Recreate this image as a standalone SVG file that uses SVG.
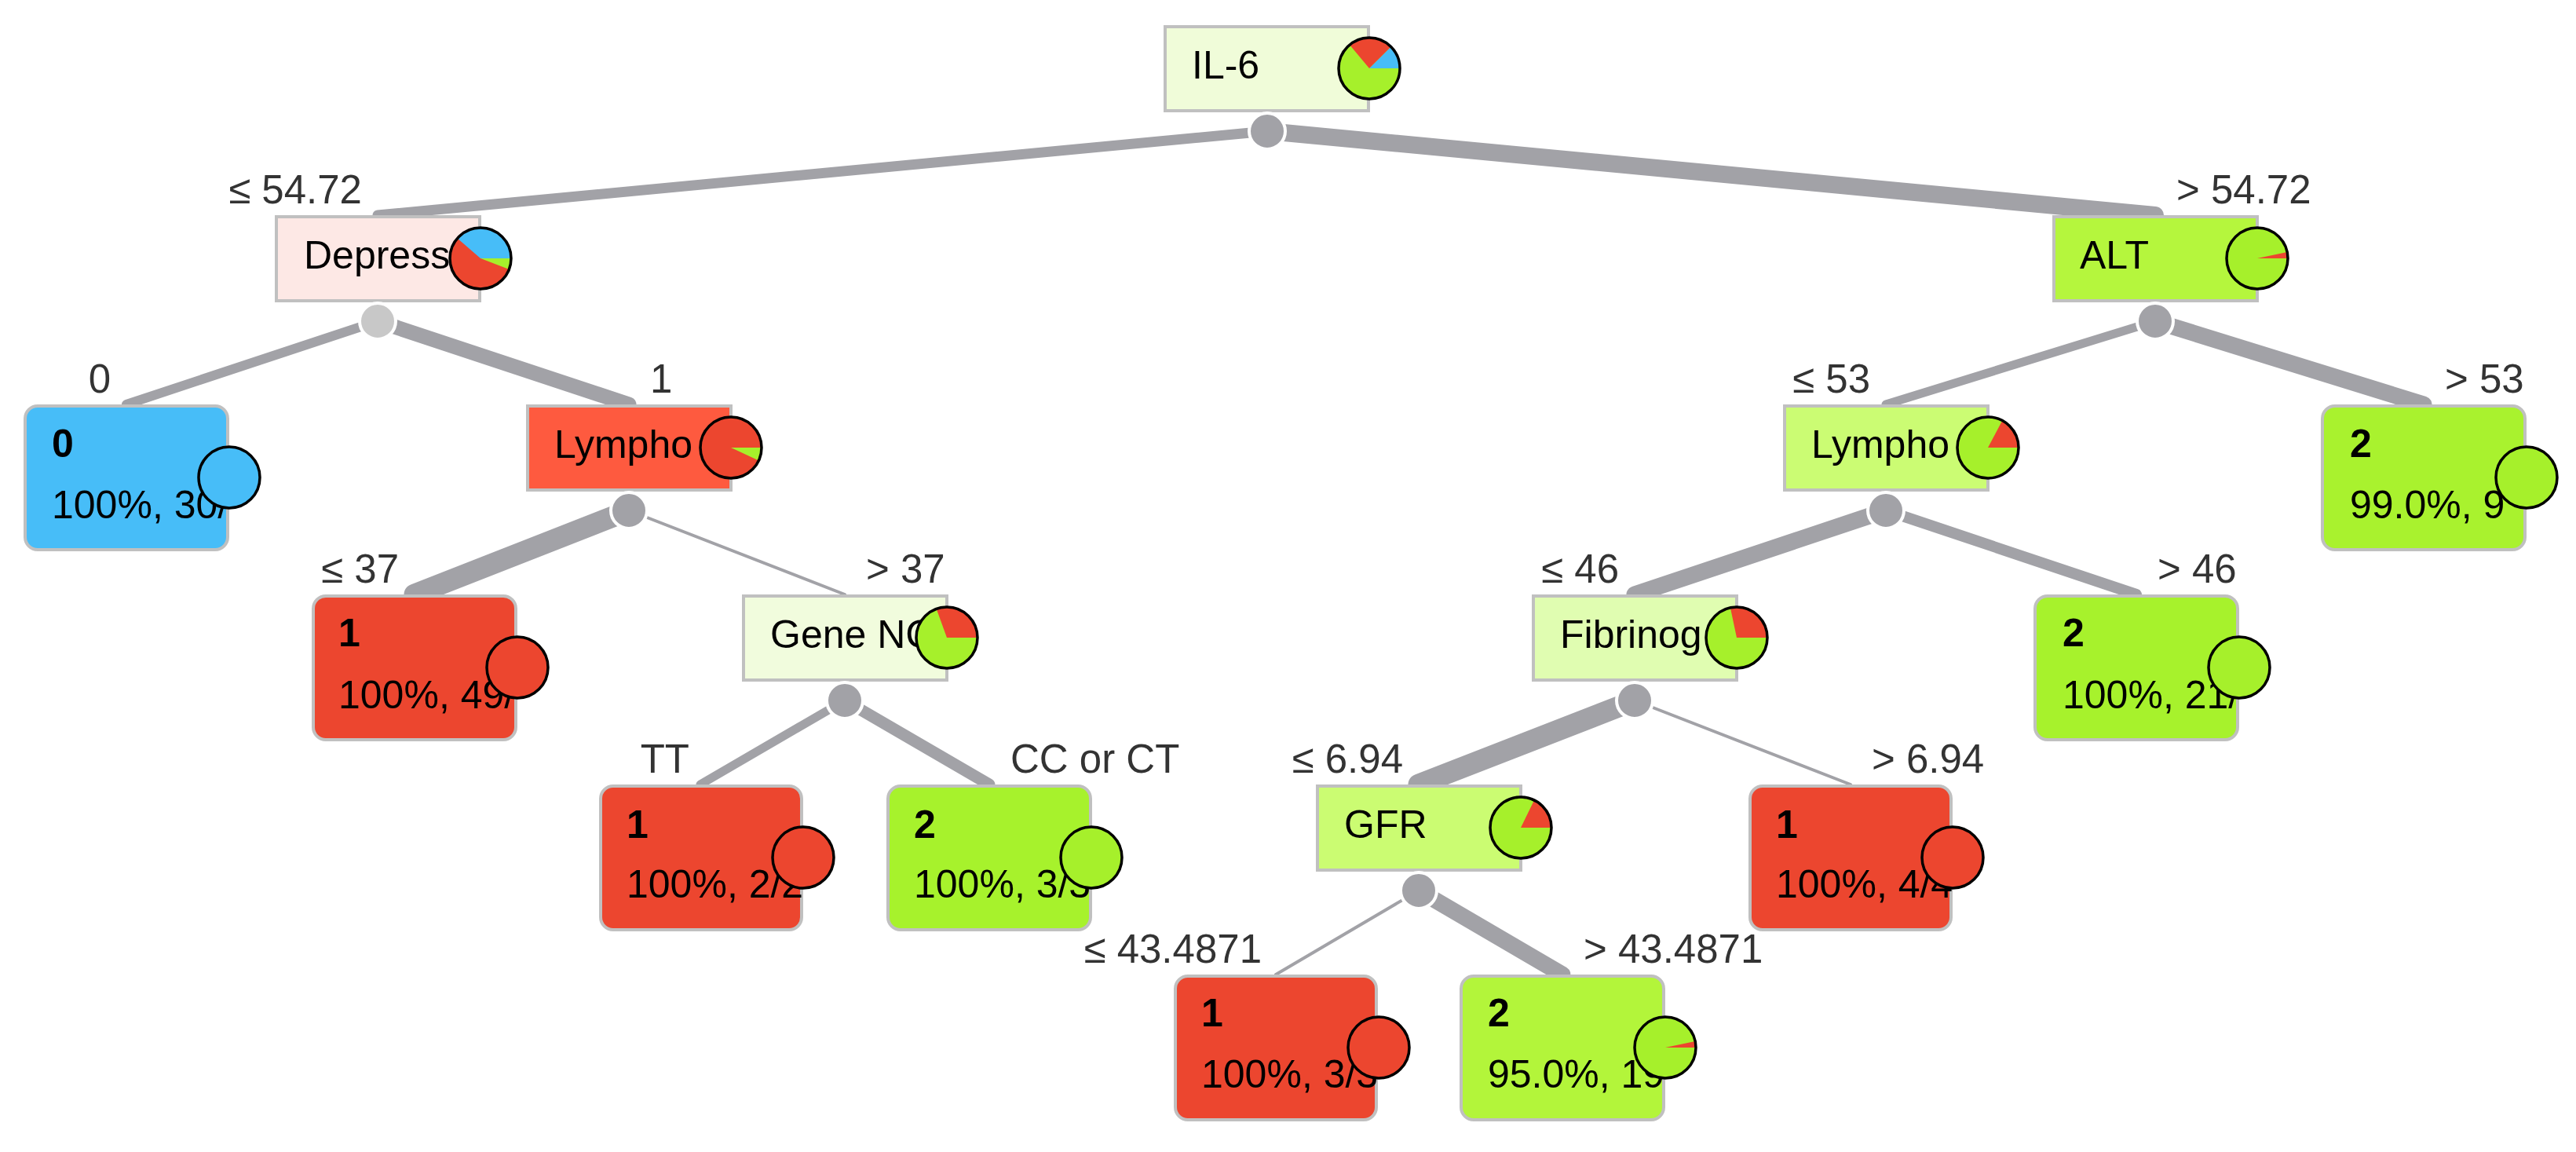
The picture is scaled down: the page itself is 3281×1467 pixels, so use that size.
<svg xmlns="http://www.w3.org/2000/svg" width="3281" height="1467" viewBox="0 0 3281 1467">
<style>
.e{stroke:#a2a2a7;fill:none;stroke-linecap:round}
.box{stroke:#c0c0c0;stroke-width:4}
.nt{font-family:"Liberation Sans",Arial,sans-serif;font-size:50px;fill:#000}
.lb{font-family:"Liberation Sans",Arial,sans-serif;font-size:51px;fill:#333}
.b{font-weight:bold}
.dot{fill:#a2a2a7;stroke:#fff;stroke-width:4}
.ring{fill:none;stroke:#000;stroke-width:3.5}
.g{fill:#a6f02b}.r{fill:#ec462f}.bl{fill:#47bdf8}
</style>
<rect width="3281" height="1467" fill="#fff"/>
<g id="connectors">
<line class="e" x1="1614" y1="167" x2="481" y2="274" stroke-width="13"/>
<line class="e" x1="1614" y1="167" x2="2745" y2="274" stroke-width="22"/>
<line class="e" x1="481" y1="409" x2="161" y2="515" stroke-width="12"/>
<line class="e" x1="481" y1="409" x2="801" y2="515" stroke-width="19"/>
<line class="e" x1="2745" y1="409" x2="2402" y2="515" stroke-width="11"/>
<line class="e" x1="2745" y1="409" x2="3087" y2="515" stroke-width="21"/>
<line class="e" x1="801" y1="650" x2="528" y2="757" stroke-width="27"/>
<line class="e" x1="801" y1="650" x2="1076" y2="757" stroke-width="4"/>
<line class="e" x1="2402" y1="650" x2="2082" y2="757" stroke-width="21"/>
<line class="e" x1="2402" y1="650" x2="2721" y2="757" stroke-width="14"/>
<line class="e" x1="1076" y1="892" x2="892" y2="999" stroke-width="11"/>
<line class="e" x1="1076" y1="892" x2="1260" y2="999" stroke-width="15"/>
<line class="e" x1="2082" y1="892" x2="1807" y2="999" stroke-width="27"/>
<line class="e" x1="2082" y1="892" x2="2357" y2="999" stroke-width="4"/>
<line class="e" x1="1807" y1="1134" x2="1625" y2="1241" stroke-width="4"/>
<line class="e" x1="1807" y1="1134" x2="1990" y2="1241" stroke-width="21"/>
</g>
<g id="labels">
<text class="lb" x="461" y="259" text-anchor="end">≤ 54.72</text>
<text class="lb" x="2772" y="259">&gt; 54.72</text>
<text class="lb" x="141" y="500" text-anchor="end">0</text>
<text class="lb" x="828" y="500">1</text>
<text class="lb" x="2382" y="500" text-anchor="end">≤ 53</text>
<text class="lb" x="3114" y="500">&gt; 53</text>
<text class="lb" x="508" y="742" text-anchor="end">≤ 37</text>
<text class="lb" x="1103" y="742">&gt; 37</text>
<text class="lb" x="2062" y="742" text-anchor="end">≤ 46</text>
<text class="lb" x="2748" y="742">&gt; 46</text>
<text class="lb" x="878" y="984" text-anchor="end">TT</text>
<text class="lb" x="1287" y="984">CC or CT</text>
<text class="lb" x="1787" y="984" text-anchor="end">≤ 6.94</text>
<text class="lb" x="2384" y="984">&gt; 6.94</text>
<text class="lb" x="1607" y="1226" text-anchor="end">≤ 43.4871</text>
<text class="lb" x="2017" y="1226">&gt; 43.4871</text>
</g>
<g id="n-il6">
<rect class="box" x="1484" y="34" width="259" height="107" fill="#f0fcd9"/>
<text class="nt" x="1518" y="100">IL-6</text>
<circle class="g" cx="1744" cy="87" r="39"/>
<path class="bl" d="M1744,87 L1783,87 A39,39 0 0 0 1771.58,59.42 Z"/>
<path class="r" d="M1744,87 L1771.58,59.42 A39,39 0 0 0 1718.93,57.12 Z"/>
<circle class="ring" cx="1744" cy="87" r="39"/>
<circle class="dot" cx="1614" cy="167" r="23"/>
</g>
<g id="n-depress">
<rect class="box" x="352" y="276" width="259" height="107" fill="#fde8e5"/>
<text class="nt" x="387" y="342">Depress</text>
<circle class="r" cx="612" cy="329" r="39"/>
<path class="bl" d="M612,329 L651,329 A39,39 0 0 0 582.57,303.41 Z"/>
<path class="g" d="M612,329 L648.41,342.98 A39,39 0 0 0 651,329 Z"/>
<circle class="ring" cx="612" cy="329" r="39"/>
<circle class="dot" cx="481" cy="409" r="23" style="fill:#c8c8c8"/>
</g>
<g id="n-alt">
<rect class="box" x="2616" y="276" width="259" height="107" fill="#b5f63d"/>
<text class="nt" x="2649" y="342">ALT</text>
<circle class="g" cx="2875" cy="329" r="39"/>
<path class="r" d="M2875,329 L2914,329 A39,39 0 0 0 2913.15,320.89 Z"/>
<circle class="ring" cx="2875" cy="329" r="39"/>
<circle class="dot" cx="2745" cy="409" r="23"/>
</g>
<g id="n-leaf0">
<rect class="box" x="32" y="517" width="258" height="183" rx="16" fill="#47bdf8"/>
<text class="nt b" x="66" y="582">0</text>
<text class="nt" x="66" y="660">100%, 30/</text>
<circle class="bl" cx="292" cy="608" r="39"/>
<circle class="ring" cx="292" cy="608" r="39"/>
</g>
<g id="n-lympho-l">
<rect class="box" x="672" y="517" width="259" height="107" fill="#fe5a3f"/>
<text class="nt" x="706" y="583">Lympho</text>
<circle class="r" cx="931" cy="570" r="39"/>
<path class="g" d="M931,570 L966.35,586.48 A39,39 0 0 0 970,570 Z"/>
<circle class="ring" cx="931" cy="570" r="39"/>
<circle class="dot" cx="801" cy="650" r="23"/>
</g>
<g id="n-lympho-r">
<rect class="box" x="2273" y="517" width="259" height="107" fill="#cbfc73"/>
<text class="nt" x="2307" y="583">Lympho</text>
<circle class="g" cx="2532" cy="570" r="39"/>
<path class="r" d="M2532,570 L2571,570 A39,39 0 0 0 2550.31,535.57 Z"/>
<circle class="ring" cx="2532" cy="570" r="39"/>
<circle class="dot" cx="2402" cy="650" r="23"/>
</g>
<g id="n-leaf-gt53">
<rect class="box" x="2958" y="517" width="258" height="183" rx="16" fill="#a9f22e"/>
<text class="nt b" x="2993" y="582">2</text>
<text class="nt" x="2993" y="660">99.0%, 9</text>
<circle class="g" cx="3218" cy="608" r="39"/>
<circle class="ring" cx="3218" cy="608" r="39"/>
</g>
<g id="n-leaf-le37">
<rect class="box" x="399" y="759" width="258" height="183" rx="16" fill="#ec462f"/>
<text class="nt b" x="431" y="823">1</text>
<text class="nt" x="431" y="902">100%, 49/</text>
<circle class="r" cx="659" cy="850" r="39"/>
<circle class="ring" cx="659" cy="850" r="39"/>
</g>
<g id="n-gene">
<rect class="box" x="947" y="759" width="259" height="107" fill="#f1fcdd"/>
<text class="nt" x="981" y="825">Gene NC</text>
<circle class="g" cx="1206" cy="812" r="39"/>
<path class="r" d="M1206,812 L1245,812 A39,39 0 0 0 1192.66,775.35 Z"/>
<circle class="ring" cx="1206" cy="812" r="39"/>
<circle class="dot" cx="1076" cy="892" r="23"/>
</g>
<g id="n-fibrinog">
<rect class="box" x="1953" y="759" width="259" height="107" fill="#e0fdb1"/>
<text class="nt" x="1987" y="825">Fibrinog</text>
<circle class="g" cx="2212" cy="812" r="39"/>
<path class="r" d="M2212,812 L2251,812 A39,39 0 0 0 2203.89,773.85 Z"/>
<circle class="ring" cx="2212" cy="812" r="39"/>
<circle class="dot" cx="2082" cy="892" r="23"/>
</g>
<g id="n-leaf-gt46">
<rect class="box" x="2592" y="759" width="258" height="183" rx="16" fill="#a7f22c"/>
<text class="nt b" x="2627" y="823">2</text>
<text class="nt" x="2627" y="902">100%, 21/</text>
<circle class="g" cx="2852" cy="850" r="39"/>
<circle class="ring" cx="2852" cy="850" r="39"/>
</g>
<g id="n-leaf-tt">
<rect class="box" x="765" y="1001" width="256" height="183" rx="16" fill="#ec462f"/>
<text class="nt b" x="798" y="1067">1</text>
<text class="nt" x="798" y="1143">100%, 2/2</text>
<circle class="r" cx="1023" cy="1092" r="39"/>
<circle class="ring" cx="1023" cy="1092" r="39"/>
</g>
<g id="n-leaf-cc">
<rect class="box" x="1131" y="1001" width="258" height="183" rx="16" fill="#a7f22c"/>
<text class="nt b" x="1164" y="1067">2</text>
<text class="nt" x="1164" y="1143">100%, 3/3</text>
<circle class="g" cx="1390" cy="1092" r="39"/>
<circle class="ring" cx="1390" cy="1092" r="39"/>
</g>
<g id="n-gfr">
<rect class="box" x="1678" y="1001" width="259" height="107" fill="#cbfc72"/>
<text class="nt" x="1712" y="1067">GFR</text>
<circle class="g" cx="1937" cy="1054" r="39"/>
<path class="r" d="M1937,1054 L1976,1054 A39,39 0 0 0 1954.10,1018.95 Z"/>
<circle class="ring" cx="1937" cy="1054" r="39"/>
<circle class="dot" cx="1807" cy="1134" r="23"/>
</g>
<g id="n-leaf-gt694">
<rect class="box" x="2229" y="1001" width="256" height="183" rx="16" fill="#ec462f"/>
<text class="nt b" x="2262" y="1067">1</text>
<text class="nt" x="2262" y="1143">100%, 4/4</text>
<circle class="r" cx="2487" cy="1092" r="39"/>
<circle class="ring" cx="2487" cy="1092" r="39"/>
</g>
<g id="n-leaf-le43">
<rect class="box" x="1497" y="1243" width="256" height="183" rx="16" fill="#ec462f"/>
<text class="nt b" x="1530" y="1307">1</text>
<text class="nt" x="1530" y="1385">100%, 3/3</text>
<circle class="r" cx="1756" cy="1334" r="39"/>
<circle class="ring" cx="1756" cy="1334" r="39"/>
</g>
<g id="n-leaf-gt43">
<rect class="box" x="1861" y="1243" width="258" height="183" rx="16" fill="#b3f53a"/>
<text class="nt b" x="1895" y="1307">2</text>
<text class="nt" x="1895" y="1385">95.0%, 19</text>
<circle class="g" cx="2121" cy="1334" r="39"/>
<path class="r" d="M2121,1334 L2160,1334 A39,39 0 0 0 2159.15,1325.89 Z"/>
<circle class="ring" cx="2121" cy="1334" r="39"/>
</g>
</svg>
